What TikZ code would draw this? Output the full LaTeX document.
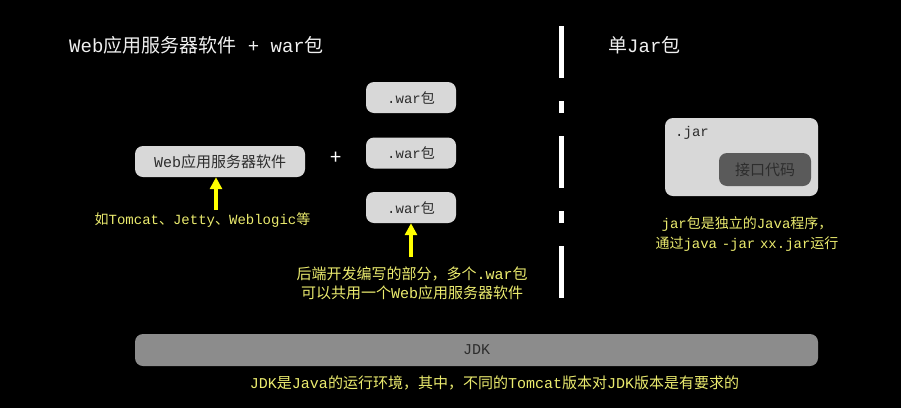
\documentclass[tikz,border=0pt]{standalone}
\usepackage{fontspec}
\setmainfont{Noto Sans CJK SC}
\newfontfamily\latmono{Liberation Mono}
\usetikzlibrary{arrows.meta,positioning}
\definecolor{bgblk}{RGB}{0,0,0}
\definecolor{boxlt}{RGB}{216,216,216}
\definecolor{boxdk}{RGB}{90,90,90}
\definecolor{boxjdk}{RGB}{140,140,140}
\definecolor{txtdk}{RGB}{45,45,45}
\definecolor{txtyel}{RGB}{235,235,110}
\definecolor{arryel}{RGB}{255,255,0}
\newcommand{\m}[1]{{\latmono #1}}
\newcommand{\fs}[1]{\fontsize{#1}{#1}\selectfont}
\tikzset{
  ttl/.style={text=white!94!black, font=\fs{19}, anchor=west, inner sep=0pt},
  pkg/.style={rounded corners=8pt, fill=boxlt, text=txtdk, inner sep=0pt},
  note/.style={text=txtyel, align=center, inner sep=0pt},
  yarr/.style={-{Triangle[length=12pt, width=12pt]}, arryel, line width=3.5pt},
  sep/.style={white, line width=5pt, dash pattern=on 52pt off 23pt on 12pt off 23pt},
}
\begin{document}
\begin{tikzpicture}[x=1pt,y=-1pt]
\fill[bgblk] (0,0) rectangle (901,408);
\useasboundingbox (0,0) rectangle (901,408);
% left side: server + war packages
\node[ttl] (tleft) at (69,45) {\m{Web}应用服务器软件\m{ + war}包};
\node[pkg, minimum width=170pt, minimum height=31pt, font=\fs{15}] (srv) at (220,161.5) {\m{Web}应用服务器软件};
\node[text=white, font=\fs{20}, inner sep=0pt] (plus) at (336,158) {+};
\node[pkg, minimum width=90pt, minimum height=31pt, font=\fs{14}] (war1) at (411,97.5) {\m{.war}包};
\node[pkg, minimum width=90pt, minimum height=31pt, font=\fs{14}] (war2) at (411,153) {\m{.war}包};
\node[pkg, minimum width=90pt, minimum height=31pt, font=\fs{14}] (war3) at (411,207.5) {\m{.war}包};
\node[note, font=\fs{14}] (nsrv) at (202.5,220) {如\m{Tomcat}、\m{Jetty}、\m{Weblogic}等};
\node[note, font=\fs{15}, text width=260pt] (nwar) at (412,283) {后端开发编写的部分，多个\m{.war}包\\[4pt]可以共用一个\m{Web}应用服务器软件};
\coordinate (asrv) at (216,210);
\coordinate (awar) at (411,257);
\draw[yarr] (asrv) -- (asrv |- srv.south);
\draw[yarr] (awar) -- (awar |- war3.south);
% divider
\draw[sep] (561,26) -- (561,298);
% right side: single jar
\node[ttl] (tright) at (608,45) {单\m{Jar}包};
\node[pkg, minimum width=153pt, minimum height=78pt] (jar) at (741.5,157) {};
\node[text=txtdk, font=\fs{14}, anchor=west, inner sep=0pt] (jarlbl) at (675,133) {\m{.jar}};
\node[rounded corners=8pt, fill=boxdk, text=txtdk, inner sep=0pt, minimum width=92pt, minimum height=33pt, font=\fs{15}] (api) at (765,169.5) {接口代码};
\node[note, font=\fs{14}, text width=220pt] (njar) at (747,234) {\m{jar}包是独立的\m{Java}程序，\\[4pt]通过\m{java -jar xx.jar}运行};
% bottom: JDK
\node[pkg, fill=boxjdk, minimum width=683pt, minimum height=32pt, font=\fs{15}] (jdk) at (476.5,350) {\m{JDK}};
\node[note, font=\fs{15}] (njdk) at (494.5,383) {\m{JDK}是\m{Java}的运行环境，其中，不同的\m{Tomcat}版本对\m{JDK}版本是有要求的};
\end{tikzpicture}
\end{document}
